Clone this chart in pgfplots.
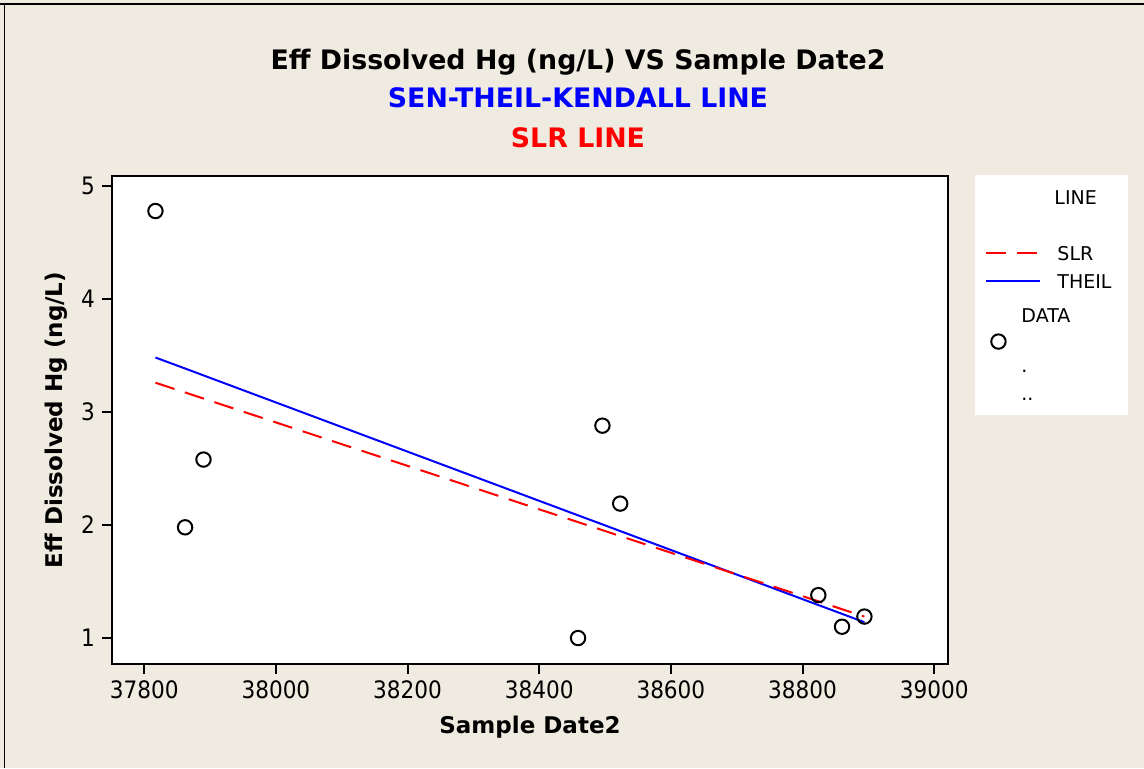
\documentclass[border=0pt]{standalone}
\usepackage{fontspec}
\setmainfont{DejaVu Sans}
\newfontfamily\condfont{DejaVu Sans Condensed}
\usepackage{pgfplots}
\pgfplotsset{compat=1.18}
\definecolor{panel}{RGB}{239,235,224}
\pgfplotsset{
  seg legend/.style={legend image code/.code={\path[draw=none] (0pt,-1pt) rectangle (27pt,4pt); \draw[##1, overlay] (0pt,1.5pt) -- (27pt,1.5pt);}},
  ring legend/.style={legend image code/.code={\path[draw=none] (0pt,-1pt) rectangle (27pt,4pt); \draw[##1, overlay] (6pt,-1pt) circle (3.6pt);}},
}

\begin{document}
\begin{tikzpicture}[x=1pt,y=1pt]
% page background and frame
\path[use as bounding box, fill=panel] (0,0) rectangle (572,384);
\draw[line width=0.6pt] (2.3,0) -- (2.3,381.9);
\draw[line width=0.8pt] (0,381.9) -- (572,381.9);
% legend panel
\fill[white] (487.5,176.5) rectangle (564,296.5);
% titles
\node[font=\bfseries\fontsize{13.4}{16}\selectfont, anchor=base] at (289,349.5) {Eff Dissolved Hg (ng/L) VS Sample Date2};
\node[font=\bfseries\fontsize{13.4}{16}\selectfont, anchor=base, text=blue] at (289,330.5) {SEN-THEIL-KENDALL LINE};
\node[font=\bfseries\fontsize{13.4}{16}\selectfont, anchor=base, text=red] at (289,310.5) {SLR LINE};

\begin{axis}[
  at={(56pt,52pt)}, anchor=south west,
  scale only axis, width=418pt, height=244pt,
  xmin=37751, xmax=39021, ymin=0.77, ymax=5.09,
  xtick={37800,38000,...,39000}, ytick={1,2,3,4,5},
  scaled ticks=false,
  /pgf/number format/.cd, 1000 sep={}, assume math mode=true, /pgfplots/.cd,
  tick pos=left, tick align=outside, major tick length=5pt,
  every tick/.style={black, line width=1pt},
  axis line style={line width=1pt},
  axis background/.style={fill=white, draw=black, line width=1pt},
  tick label style={font=\fontsize{12}{14}\selectfont\condfont},
  label style={font=\bfseries\fontsize{11.5}{14}\selectfont},
  xlabel style={yshift=-1.5pt},
  xlabel={Sample Date2},
  ylabel={Eff Dissolved Hg (ng/L)},
  seg legend,
  legend cell align=left,
  legend style={at={(axis description cs:1.0455,0.971)}, anchor=north west,
    draw=none, fill=none, inner sep=0pt, row sep=5pt, column sep=8.5pt,
    font=\fontsize{9.5}{11}\selectfont,
    nodes={inner sep=0pt, text height=7pt, text depth=2pt}},
]
% Sen-Theil-Kendall fit
\addplot[blue, line width=1pt, forget plot] coordinates {
  (37817,3.483) (37862,3.386) (37890,3.325) (38459,2.086) (38496,2.006)
  (38523,1.947) (38824,1.292) (38860,1.214) (38894,1.140)};
% least-squares fit
\addplot[red, line width=1pt, dash pattern=on 10pt off 5.5pt, forget plot] coordinates {
  (37817,3.260) (37862,3.174) (37890,3.120) (38459,2.026) (38496,1.955)
  (38523,1.903) (38824,1.325) (38860,1.255) (38894,1.190)};
% observations
\addplot[only marks, mark=o, mark size=3.6pt, line width=1pt, black, forget plot] coordinates {
  (37817,4.78) (37862,1.98) (37890,2.58) (38459,1.00) (38496,2.88)
  (38523,2.19) (38824,1.38) (38860,1.10) (38894,1.19)};

\addlegendimage{empty legend}\addlegendentry{\hspace*{-1.5pt}LINE}
\addlegendimage{empty legend}\addlegendentry{}
\addlegendimage{red, line width=1pt, dash pattern=on 10pt off 5.5pt}\addlegendentry{SLR}
\addlegendimage{blue, line width=1pt}\addlegendentry{THEIL}
\addlegendimage{empty legend}\addlegendentry{\hspace*{-18pt}\raisebox{-3pt}{DATA}}
\addlegendimage{black, line width=1pt, ring legend}\addlegendentry{}
\addlegendimage{empty legend}\addlegendentry{\hspace*{-18pt}.\hspace*{18pt}}
\addlegendimage{empty legend}\addlegendentry{\hspace*{-18pt}..\hspace*{18pt}}
\end{axis}
\end{tikzpicture}
\end{document}
